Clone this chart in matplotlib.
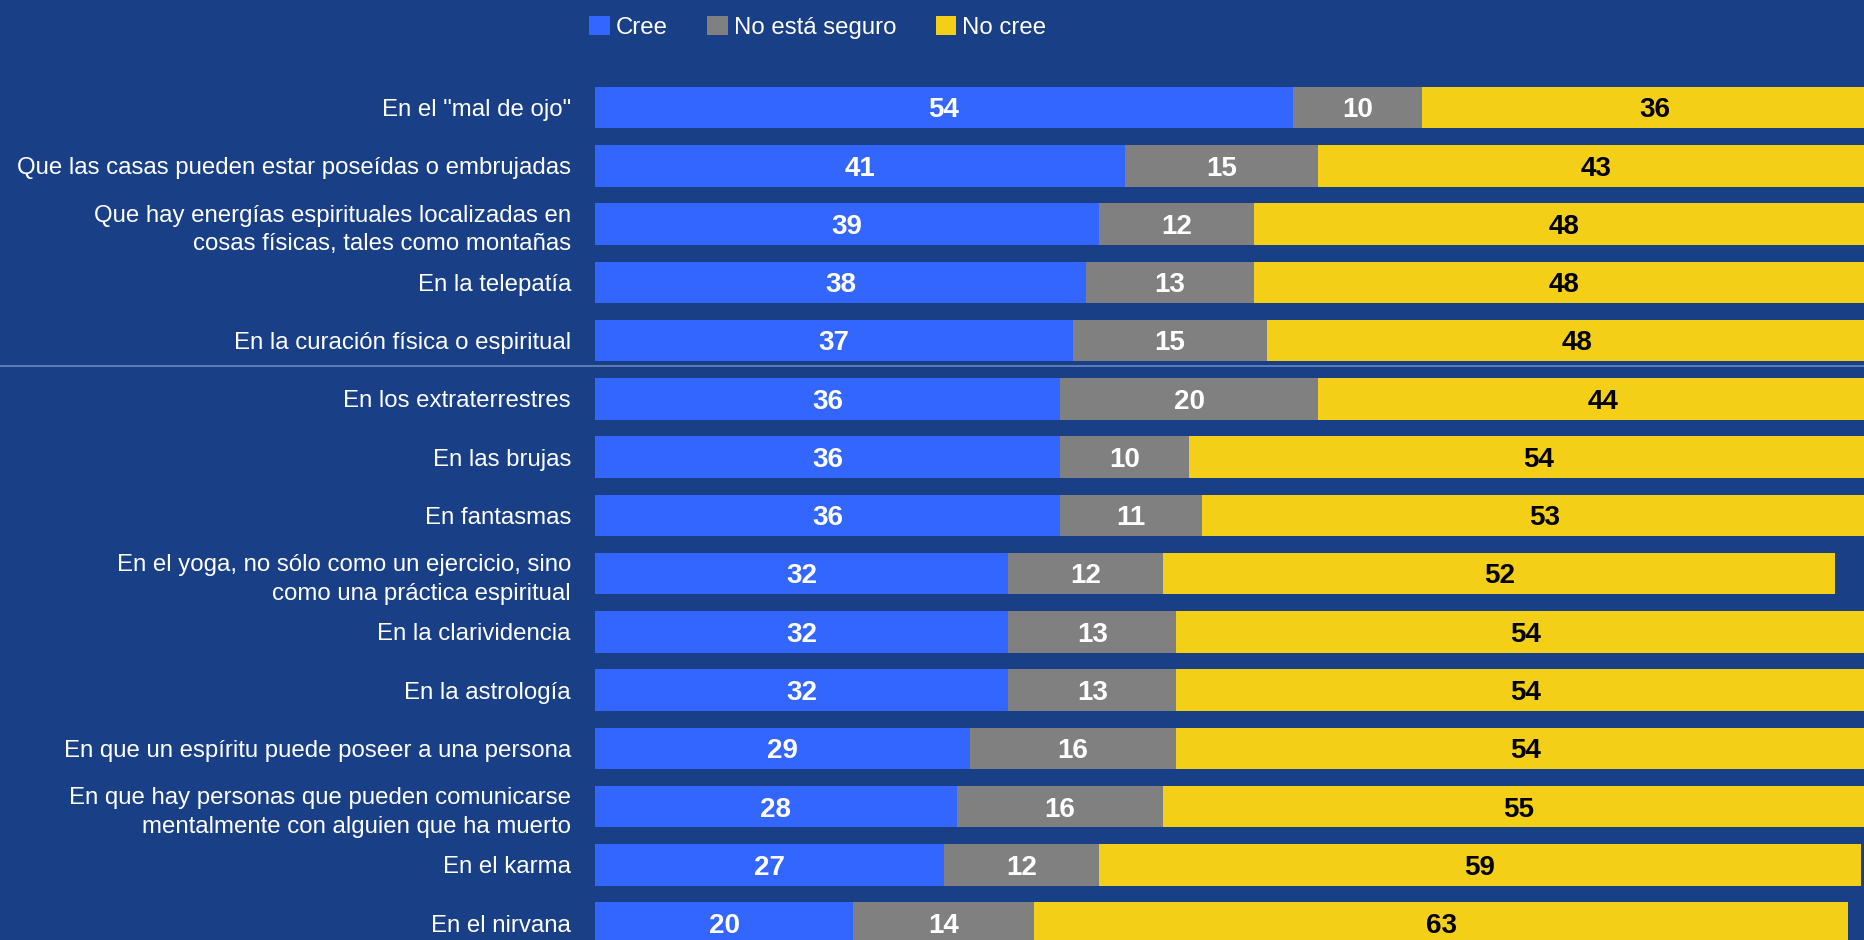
import matplotlib
matplotlib.use("Agg")
from matplotlib import pyplot as plt
from matplotlib.patches import Patch
import numpy as np

plt.rcParams['font.family'] = ['Liberation Sans', 'DejaVu Sans']

categories = [
    'En el "mal de ojo"',
    'Que las casas pueden estar poseídas o embrujadas',
    'Que hay energías espirituales localizadas en\ncosas físicas, tales como montañas',
    'En la telepatía',
    'En la curación física o espiritual',
    'En los extraterrestres',
    'En las brujas',
    'En fantasmas',
    'En el yoga, no sólo como un ejercicio, sino\ncomo una práctica espiritual',
    'En la clarividencia',
    'En la astrología',
    'En que un espíritu puede poseer a una persona',
    'En que hay personas que pueden comunicarse\nmentalmente con alguien que ha muerto',
    'En el karma',
    'En el nirvana',
]
cree = [54, 41, 39, 38, 37, 36, 36, 36, 32, 32, 32, 29, 28, 27, 20]
no_seguro = [10, 15, 12, 13, 15, 20, 10, 11, 12, 13, 13, 16, 16, 12, 14]
no_cree = [36, 43, 48, 48, 48, 44, 54, 53, 52, 54, 54, 54, 55, 59, 63]

series = ['Cree', 'No está seguro', 'No cree']
colors = ['#3366ff', '#808080', '#f3cf17']
text_colors = ['white', 'white', 'black']
bg = '#193f87'

fig = plt.figure(figsize=(18.65, 9.4), dpi=100, facecolor=bg)
ax = fig.add_axes([595 / 1865, 0, 1270 / 1865, 1])
ax.set_facecolor(bg)

y = np.arange(len(categories))
left = np.zeros(len(categories))
for vals, col, tcol in zip([cree, no_seguro, no_cree], colors, text_colors):
    vals = np.array(vals)
    ax.barh(y, vals, left=left, height=0.714, color=col, linewidth=0)
    for yi, l, v in zip(y, left, vals):
        # small downward nudge so the digits sit in the middle of the bar
        ax.text(l + v / 2, yi + 0.05, str(v), ha='center', va='center',
                color=tcol, fontsize=20, fontweight='bold')
    left = left + vals

ax.set_xlim(0, 98.3)
ax.set_ylim(14.29, -1.846)
ax.set_yticks(y)
ax.set_yticklabels(categories, fontsize=17.3, color='white', linespacing=1.4)
ax.tick_params(axis='y', length=0, pad=17.3)
ax.set_xticks([])
for s in ax.spines.values():
    s.set_visible(False)

# separator line across the whole figure
ax.axhline(4.43, xmin=-595 / 1270, xmax=1, color='#6a86bd', linewidth=1.2,
           clip_on=False)

handles = [Patch(facecolor=c, edgecolor='none') for c in colors]
fig.legend(handles, series, loc='center', bbox_to_anchor=(0.4385, 0.971),
           ncol=3, frameon=False, fontsize=17.3, labelcolor='white',
           handlelength=0.85, handleheight=0.85, handletextpad=0.25,
           columnspacing=1.65)

fig.savefig('out.png', dpi=100, facecolor=bg)
